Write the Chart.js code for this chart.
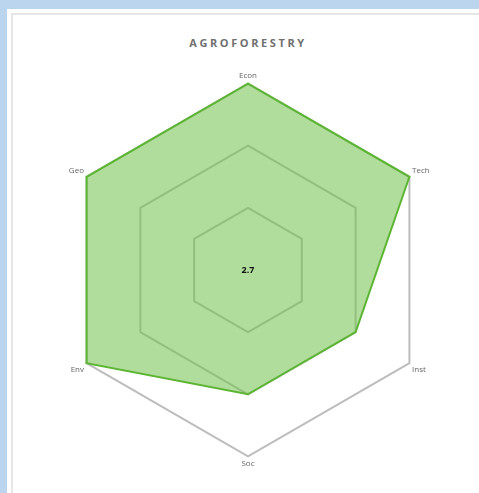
<!DOCTYPE html>
<html>
<head>
<meta charset="utf-8">
<script src="https://cdn.jsdelivr.net/npm/chart.js@4"></script>
<style>
  html, body { margin: 0; padding: 0; }
  body { width: 479px; height: 493px; overflow: hidden; background: #bcd5ee; position: relative; font-family: "Open Sans", sans-serif; }
  #sheet { position: absolute; left: 7px; top: 9px; width: 600px; height: 600px; background: #fff; }
  #panel { position: absolute; left: 11px; top: 13px; width: 600px; height: 600px; border-left: 2px solid #e6e6e6; border-top: 2px solid #e6e6e6; box-sizing: border-box; }
  #title { position: absolute; left: 11px; width: 474px; top: 35px; text-align: center; font-size: 11px; font-weight: 700; letter-spacing: 2.6px; color: #707070; }
  #wrap { position: absolute; left: 11px; top: 60px; width: 474px; height: 421px; }
</style>
</head>
<body>
<div id="sheet"></div>
<div id="panel"></div>
<div id="title">AGROFORESTRY</div>
<div id="wrap"><canvas id="radarChart"></canvas></div>
<script>
let categories = ['Econ', 'Tech', 'Inst', 'Soc', 'Env', 'Geo'];
let scores     = [3, 3, 2, 2, 3, 3];
let scaleMax   = 3;

// average shown in the middle
let avgScore = (scores.reduce((a, b) => a + b, 0) / scores.length).toFixed(1);

let centerText = {
    id: 'centerText',
    afterDraw(chart) {
        let s = chart.scales.r;
        let ctx = chart.ctx;
        ctx.save();
        ctx.font = 'bold 9px "Open Sans"';
        ctx.fillStyle = '#111';
        ctx.textAlign = 'center';
        ctx.textBaseline = 'middle';
        ctx.fillText(avgScore, s.xCenter, s.yCenter);
        ctx.restore();
    }
};

new Chart(document.getElementById('radarChart'), {
    type: 'radar',
    data: {
        labels: categories,
        datasets: [{
            label: 'Agroforestry',
            data: scores,
            fill: true,
            backgroundColor: 'rgba(112,191,75,0.55)',
            borderColor: '#5cb533',
            borderWidth: 2,
            pointRadius: 0
        }]
    },
    options: {
        responsive: true,
        maintainAspectRatio: false,
        animation: false,
        layout: { padding: { top: 12, bottom: 11 } },
        plugins: { legend: { display: false }, tooltip: { enabled: false } },
        scales: {
            r: {
                min: 0,
                max: scaleMax,
                ticks: { stepSize: 1, display: false },
                angleLines: { display: false },
                grid: { color: '#bdbdbd', lineWidth: 2 },
                pointLabels: { font: { size: 8, family: '"Open Sans"' }, color: '#666', padding: 3 }
            }
        }
    },
    plugins: [centerText]
});
</script>
</body>
</html>
